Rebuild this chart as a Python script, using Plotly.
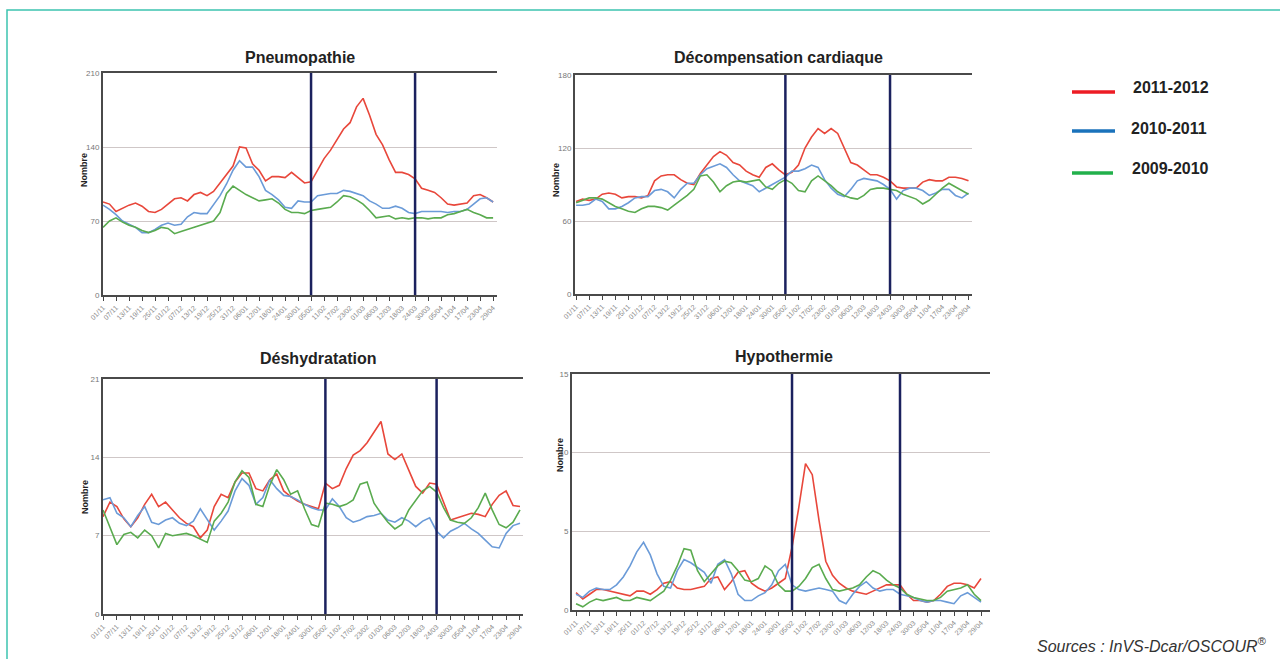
import plotly.graph_objects as go

# ---------------- DATA ----------------
# sampling days (0 = 01/11), one value every 3 days
day_index = list(range(0, 181, 3))

tick_days = list(range(0, 181, 6))
tick_labels = ["01/11", "07/11", "13/11", "19/11", "25/11", "01/12", "07/12", "13/12",
               "19/12", "25/12", "31/12", "06/01", "12/01", "18/01", "24/01", "30/01",
               "05/02", "11/02", "17/02", "23/02", "01/03", "06/03", "12/03", "18/03",
               "24/03", "30/03", "05/04", "11/04", "17/04", "23/04", "29/04"]

period_markers = [96, 144]  # 05/02 and 24/03

series_names = ["2011-2012", "2010-2011", "2009-2010"]

panel_titles = ["Pneumopathie", "Décompensation cardiaque", "Déshydratation", "Hypothermie"]
panel_yticks = [[0, 70, 140, 210], [0, 60, 120, 180], [0, 7, 14, 21], [0, 5, 10, 15]]

pneumo_2011 = [88, 86, 79, 82, 85, 87, 84, 79, 78, 81, 86, 91, 92, 89, 95, 97, 94, 98, 106, 114,
               122, 140, 139, 124, 118, 108, 112, 112, 111, 116, 111, 106, 107, 118, 129, 137, 147,
               157, 163, 178, 186, 170, 152, 142, 128, 116, 116, 114, 110, 101, 99, 97, 92, 86, 85,
               86, 87, 94, 95, 92, 88]
pneumo_2010 = [85, 81, 76, 70, 67, 64, 59, 59, 62, 66, 68, 66, 67, 74, 78, 77, 77, 85, 94, 105,
               118, 127, 121, 121, 112, 99, 95, 90, 83, 82, 89, 88, 88, 94, 95, 96, 96, 99, 98, 96,
               94, 89, 86, 82, 82, 84, 82, 78, 77, 79, 79, 79, 79, 78, 79, 79, 81, 86, 91, 92, 88]
pneumo_2009 = [64, 70, 73, 69, 66, 64, 61, 59, 61, 64, 63, 58, 60, 62, 64, 66, 68, 70, 78, 96,
               103, 99, 95, 92, 89, 90, 91, 87, 81, 78, 78, 77, 80, 81, 82, 83, 88, 94, 93, 90, 86,
               80, 73, 74, 75, 72, 73, 72, 73, 73, 72, 73, 73, 76, 77, 79, 81, 78, 76, 73, 73]

cardio_2011 = [76, 78, 77, 78, 82, 83, 82, 79, 80, 80, 79, 81, 93, 97, 98, 98, 94, 91, 90, 99,
               106, 113, 117, 114, 108, 106, 101, 98, 96, 104, 107, 102, 98, 100, 106, 120, 129,
               136, 132, 136, 132, 120, 108, 106, 102, 98, 98, 96, 93, 88, 87, 87, 87, 92, 94, 93,
               93, 96, 96, 95, 93]
cardio_2010 = [73, 73, 74, 78, 76, 70, 70, 72, 75, 79, 80, 80, 85, 86, 84, 79, 86, 91, 91, 98,
               103, 105, 107, 104, 98, 93, 91, 89, 84, 87, 90, 93, 96, 101, 101, 103, 106, 104, 94,
               87, 82, 80, 86, 93, 95, 94, 93, 90, 86, 78, 85, 87, 87, 85, 81, 83, 86, 86, 81, 79, 83]
cardio_2009 = [75, 77, 79, 79, 78, 75, 72, 70, 68, 67, 70, 72, 72, 71, 69, 73, 77, 81, 86, 97,
               98, 92, 84, 89, 92, 93, 92, 93, 94, 88, 86, 91, 94, 91, 85, 84, 93, 97, 93, 89, 84,
               81, 79, 78, 81, 86, 87, 87, 86, 85, 82, 80, 78, 74, 77, 82, 87, 91, 88, 85, 82]

deshy_2011 = [8.7, 10.0, 9.6, 8.5, 7.8, 8.6, 9.8, 10.7, 9.6, 10.0, 9.3, 8.6, 8.1, 7.8, 6.8, 7.5,
              9.6, 10.7, 10.4, 11.8, 12.6, 12.6, 11.2, 11.0, 12.0, 12.5, 11.0, 10.5, 10.1, 9.8, 9.6,
              9.4, 11.7, 11.2, 11.5, 13.0, 14.2, 14.6, 15.3, 16.2, 17.2, 14.3, 13.8, 14.3, 12.8,
              11.4, 10.8, 11.7, 11.6, 10.0, 8.4, 8.6, 8.8, 9.0, 8.9, 8.7, 9.8, 10.6, 11.0, 9.7, 9.6]
deshy_2010 = [10.2, 10.4, 9.0, 8.6, 7.8, 8.8, 9.6, 8.2, 8.0, 8.4, 8.6, 8.1, 7.9, 8.3, 9.4, 8.4,
              7.5, 8.3, 9.2, 11.0, 12.1, 11.5, 9.8, 10.4, 12.0, 11.2, 10.6, 10.5, 10.2, 9.8, 9.5,
              9.3, 9.3, 10.3, 9.6, 8.6, 8.2, 8.4, 8.7, 8.8, 9.0, 8.4, 8.2, 8.6, 8.3, 7.8, 8.3, 8.6,
              7.4, 6.8, 7.4, 7.7, 8.1, 7.6, 7.2, 6.6, 6.0, 5.9, 7.2, 7.9, 8.1]
deshy_2009 = [9.3, 7.8, 6.2, 7.1, 7.3, 6.8, 7.5, 7.0, 5.9, 7.2, 7.0, 7.1, 7.2, 7.0, 6.7, 6.4,
              8.3, 9.0, 10.0, 11.8, 12.8, 12.2, 9.8, 9.6, 11.5, 12.9, 12.0, 10.7, 11.0, 9.4, 8.0,
              7.8, 9.9, 9.8, 9.6, 9.8, 10.2, 11.6, 11.8, 9.9, 9.0, 8.2, 7.6, 8.0, 9.3, 10.1, 11.0,
              11.4, 10.9, 9.5, 8.4, 8.2, 8.1, 8.6, 9.5, 10.8, 9.3, 8.0, 7.7, 8.2, 9.3]

hypo_2011 = [1.1, 0.7, 1.0, 1.3, 1.3, 1.2, 1.1, 1.0, 0.9, 1.2, 1.2, 1.0, 1.3, 1.7, 1.8, 1.4, 1.3,
             1.3, 1.4, 1.5, 2.0, 2.1, 1.3, 1.8, 2.4, 2.5, 1.7, 1.4, 1.2, 1.4, 1.7, 2.0, 4.0, 6.5,
             9.3, 8.6, 5.7, 3.1, 2.2, 1.7, 1.4, 1.2, 1.1, 1.0, 1.2, 1.4, 1.6, 1.6, 1.6, 1.0, 0.6,
             0.6, 0.5, 0.6, 1.0, 1.5, 1.7, 1.7, 1.6, 1.4, 2.0]
hypo_2010 = [1.0, 0.8, 1.2, 1.4, 1.3, 1.3, 1.6, 2.1, 2.8, 3.7, 4.3, 3.5, 2.3, 1.5, 1.4, 2.5, 3.2,
             3.0, 2.7, 2.4, 1.7, 2.9, 3.2, 2.3, 1.0, 0.6, 0.6, 0.9, 1.1, 1.6, 2.5, 2.9, 1.6, 1.3,
             1.2, 1.3, 1.4, 1.3, 1.2, 0.6, 0.4, 1.0, 1.5, 1.8, 1.4, 1.2, 1.3, 1.3, 1.0, 0.9, 0.8,
             0.6, 0.5, 0.6, 0.6, 0.5, 0.4, 0.9, 1.1, 0.8, 0.5]
hypo_2009 = [0.4, 0.2, 0.5, 0.7, 0.6, 0.7, 0.8, 0.6, 0.6, 0.8, 0.7, 0.6, 0.9, 1.2, 1.9, 2.8, 3.9,
             3.8, 2.5, 1.8, 2.3, 2.8, 3.1, 3.0, 2.5, 1.9, 1.8, 2.0, 2.8, 2.5, 1.6, 1.2, 1.2, 1.5,
             2.0, 2.7, 2.9, 2.0, 1.3, 1.2, 1.3, 1.4, 1.6, 2.1, 2.5, 2.3, 1.9, 1.6, 1.4, 1.0, 0.8,
             0.7, 0.6, 0.6, 0.8, 1.2, 1.3, 1.4, 1.6, 1.0, 0.6]

panel_series = [
    [pneumo_2011, pneumo_2010, pneumo_2009],
    [cardio_2011, cardio_2010, cardio_2009],
    [deshy_2011, deshy_2010, deshy_2009],
    [hypo_2011, hypo_2010, hypo_2009],
]

# ---------------- STYLE / LAYOUT ----------------
W, H = 1280, 659
line_colors = ["#e8473b", "#6b9bd8", "#5aab4f"]
legend_colors = ["#ed1c24", "#1a72bb", "#22b04b"]
FONT = "Liberation Sans, Arial, sans-serif"

# pixel boxes: (left, right, top, bottom), x range, title centre, "Nombre" centre
panels = [
    dict(box=(103, 497, 73, 295), xr=[0, 181.8], title=(300, 57), ylab=(84, 170)),
    dict(box=(575, 972, 75, 294), xr=[-0.5, 181.6], title=(778, 57), ylab=(556, 180)),
    dict(box=(103, 523, 379, 614), xr=[0, 181.3], title=(318, 359), ylab=(85, 497)),
    dict(box=(572, 990, 374, 610), xr=[-1.8, 184.0], title=(784, 357), ylab=(560, 455)),
]


def px(xp):
    return xp / W


def py(yp):
    return 1 - yp / H


fig = go.Figure()
layout = dict(
    width=W, height=H, margin=dict(l=0, r=0, t=0, b=0, pad=0, autoexpand=False),
    paper_bgcolor="white", plot_bgcolor="white", showlegend=False,
    font=dict(family=FONT),
)
annotations = []
shapes = []

for i, p in enumerate(panels):
    n = "" if i == 0 else str(i + 1)
    xa, ya = "x" + n, "y" + n
    l, r, t, b = p["box"]
    yt = panel_yticks[i]
    for s, vals in enumerate(panel_series[i]):
        fig.add_trace(go.Scatter(
            x=day_index, y=vals, mode="lines", name=series_names[s],
            line=dict(color=line_colors[s], width=1.6),
            xaxis=xa, yaxis=ya, hoverinfo="skip"))
    layout["xaxis" + n] = dict(
        domain=[px(l), px(r)], range=p["xr"], anchor=ya,
        tickvals=tick_days, ticktext=tick_labels, tickangle=-45,
        tickfont=dict(size=7, color="#888"), ticks="outside", ticklen=4,
        tickcolor="#444", tickwidth=1, automargin=False,
        showline=True, linecolor="#4a4a4a", linewidth=2, mirror=True,
        showgrid=False, zeroline=False, fixedrange=True)
    layout["yaxis" + n] = dict(
        domain=[py(b), py(t)], range=[yt[0], yt[-1]], anchor=xa,
        tickvals=yt, tickfont=dict(size=8, color="#777"), ticks="", automargin=False,
        showline=True, linecolor="#4a4a4a", linewidth=2,
        showgrid=True, gridcolor="#cfc7c7", gridwidth=1.2,
        zeroline=False, fixedrange=True)
    for d in period_markers:
        shapes.append(dict(type="line", xref=xa, yref=ya + " domain",
                           x0=d, x1=d, y0=0, y1=1,
                           line=dict(color="#1b215e", width=2.5), layer="above"))
    annotations.append(dict(
        text="<b>%s</b>" % panel_titles[i], xref="paper", yref="paper",
        x=px(p["title"][0]), y=py(p["title"][1]), xanchor="center", yanchor="middle",
        showarrow=False, font=dict(size=16, color="#222", family=FONT)))
    annotations.append(dict(
        text="<b>Nombre</b>", xref="paper", yref="paper", textangle=-90,
        x=px(p["ylab"][0]), y=py(p["ylab"][1]), xanchor="center", yanchor="middle",
        showarrow=False, font=dict(size=9, color="#222", family=FONT)))

# legend (drawn manually)
legend_rows = [(92, 88), (131, 128), (173, 169)]
legend_x = [(1072, 1115), (1072, 1115), (1072, 1113)]
legend_text_x = [1171, 1169, 1170]
for s, name in enumerate(series_names):
    ly, ty = legend_rows[s]
    shapes.append(dict(type="line", xref="paper", yref="paper",
                       x0=px(legend_x[s][0]), x1=px(legend_x[s][1]), y0=py(ly), y1=py(ly),
                       line=dict(color=legend_colors[s], width=3.5)))
    annotations.append(dict(
        text="<b>%s</b>" % name, xref="paper", yref="paper",
        x=px(legend_text_x[s]), y=py(ty), xanchor="center", yanchor="middle",
        showarrow=False, font=dict(size=16, color="#222", family=FONT)))

# source
annotations.append(dict(
    text="<i>Sources : InVS-Dcar/OSCOUR<sup>®</sup></i>", xref="paper", yref="paper",
    x=px(1269), y=py(645), xanchor="right", yanchor="middle", showarrow=False,
    font=dict(size=16, color="#333", family=FONT)))

# outer teal frame
shapes.append(dict(type="rect", xref="paper", yref="paper",
                   x0=px(7), x1=1.02, y0=-0.02, y1=py(10),
                   line=dict(color="#3cc4b0", width=1.5), layer="below"))

layout["annotations"] = annotations
layout["shapes"] = shapes
fig.update_layout(**layout)
fig.write_html("out.html", include_plotlyjs=True, config={"displayModeBar": False},
               post_script="document.body.style.margin='0';document.body.style.overflow='hidden';")
